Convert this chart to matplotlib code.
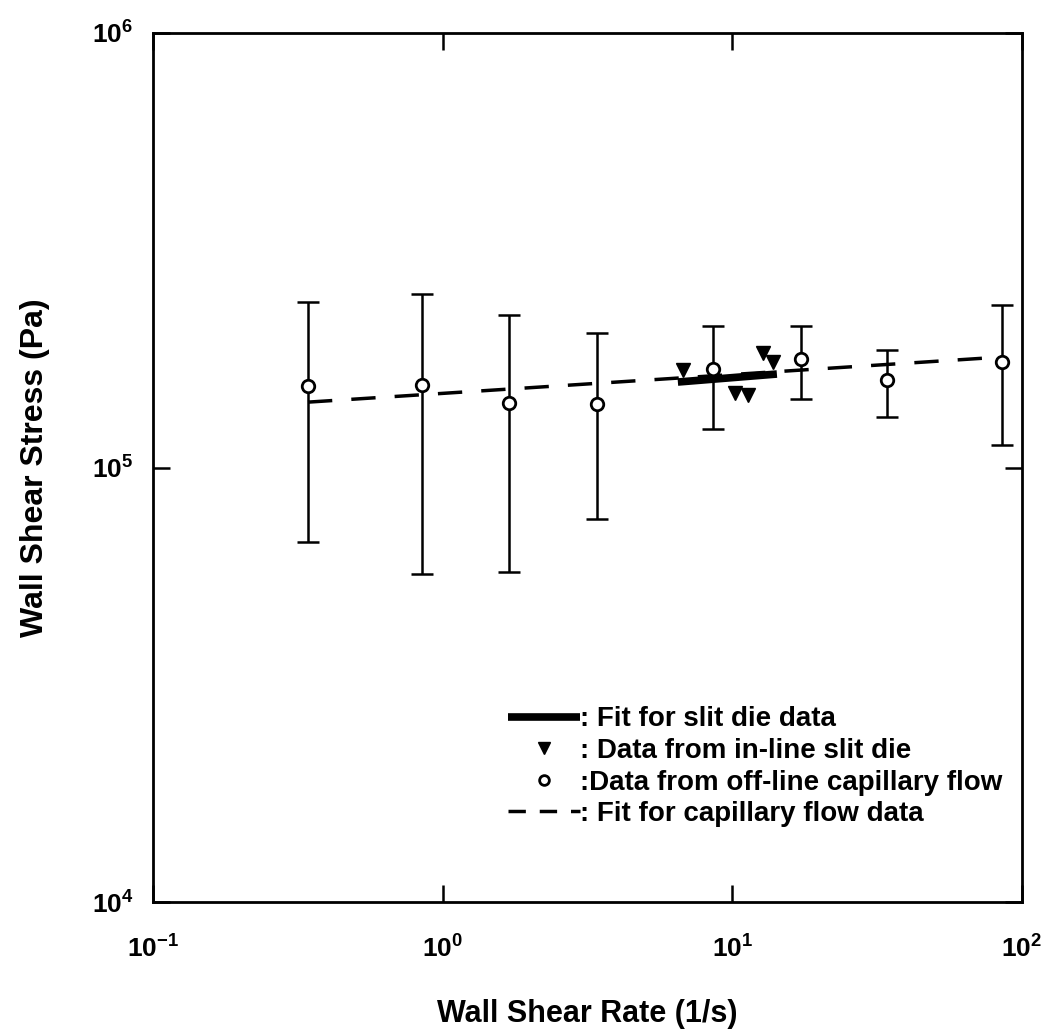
import matplotlib
matplotlib.use("Agg")
import matplotlib.pyplot as plt
from matplotlib.lines import Line2D

plt.rcParams["font.family"] = ["Liberation Sans", "DejaVu Sans"]
plt.rcParams["font.weight"] = "bold"
plt.rcParams["mathtext.fontset"] = "custom"
plt.rcParams["mathtext.rm"] = "Liberation Sans:bold"
plt.rcParams["mathtext.bf"] = "Liberation Sans:bold"
plt.rcParams["mathtext.it"] = "Liberation Sans:bold"

# off-line capillary flow data (circles with error bars)
cap_rate = [0.343, 0.848, 1.69, 3.41, 8.57, 17.25, 34.2, 85.2]
cap_stress = [154000, 155000, 140700, 140000, 168500, 177700, 159000, 174900]
cap_upper = [240000, 250700, 224300, 204000, 211700, 211700, 186400, 236600]
cap_lower = [67400, 56900, 57500, 76100, 122600, 143800, 130700, 112700]

# in-line slit die data (triangles)
slit_rate = [6.75, 10.2, 11.3, 12.75, 13.8]
slit_stress = [167600, 148500, 146800, 183500, 175000]

# fit lines
cap_fit_rate = [0.343, 85.2]
cap_fit_stress = [141400, 179600]
slit_fit_rate = [6.49, 14.26]
slit_fit_stress = [157300, 164100]

legend_labels = [": Fit for slit die data",
                 ": Data from in-line slit die",
                 ":Data from off-line capillary flow",
                 ": Fit for capillary flow data"]

fig = plt.figure(figsize=(10.57, 10.31), dpi=100)
ax = fig.add_axes([0.1447, 0.1251, 0.8221, 0.8429])

err_lo = [s - l for s, l in zip(cap_stress, cap_lower)]
err_hi = [u - s for s, u in zip(cap_stress, cap_upper)]

ax.plot(cap_fit_rate, cap_fit_stress, color="black", lw=2.5, dashes=[7, 5.5], zorder=2)
ax.plot(slit_fit_rate, slit_fit_stress, color="black", lw=5.5, solid_capstyle="butt", zorder=3)
ax.errorbar(cap_rate, cap_stress, yerr=[err_lo, err_hi], fmt="none", ecolor="black",
            elinewidth=1.8, capsize=8, capthick=1.8, zorder=4)
ax.plot(cap_rate, cap_stress, "o", ms=9, mfc="white", mec="black", mew=2, zorder=5)
ax.plot(slit_rate, slit_stress, "v", ms=10, color="black", zorder=5)

ax.set_xscale("log")
ax.set_yscale("log")
ax.set_xlim(0.1, 100)
ax.set_ylim(1e4, 1e6)

ax.set_xticks([0.1, 1, 10, 100])
ax.set_xticklabels(["$10^{-1}$", "$10^{0}$", "$10^{1}$", "$10^{2}$"])
ax.set_yticks([1e4, 1e5, 1e6])
ax.set_yticklabels(["$10^{4}$", "$10^{5}$", "$10^{6}$"])
ax.minorticks_off()
ax.tick_params(which="major", direction="in", length=12, width=1.8,
               top=True, right=True, labelsize=19)
ax.tick_params(axis="x", pad=24)
ax.tick_params(axis="y", pad=14)
for sp in ax.spines.values():
    sp.set_linewidth(2)

ax.set_xlabel("Wall Shear Rate (1/s)", fontsize=22, fontweight="bold", labelpad=26)
ax.set_ylabel("Wall Shear Stress (Pa)", fontsize=23, fontweight="bold", labelpad=30)

handles = [Line2D([], [], color="black", lw=5.5, solid_capstyle="butt"),
           Line2D([], [], ls="none", marker="v", ms=8, color="black"),
           Line2D([], [], ls="none", marker="o", ms=7, mfc="white", mec="black", mew=2),
           Line2D([], [], color="black", lw=2.5, dashes=[5, 4])]
ax.legend(handles, legend_labels, loc="upper left", bbox_to_anchor=(0.4085, 0.225),
          frameon=False, handlelength=2.6, handletextpad=0.0,
          borderpad=0, borderaxespad=0, labelspacing=0.2,
          prop={"weight": "bold", "size": 20})

fig.savefig("out.png", dpi=100)
